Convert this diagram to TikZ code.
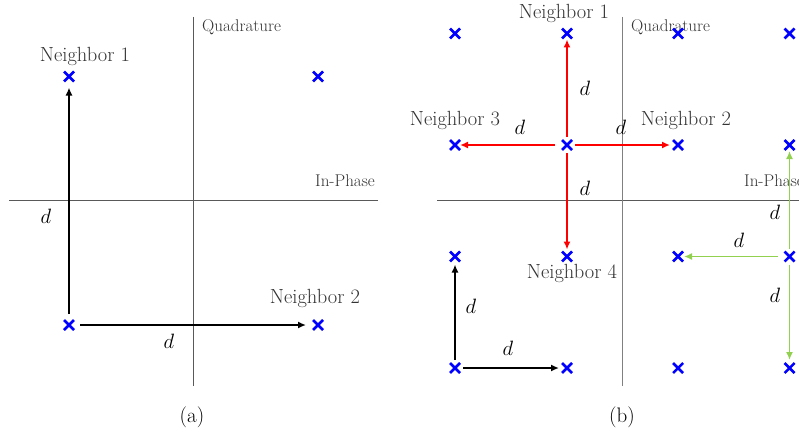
\documentclass[tikz,border=0pt]{standalone}
\usepackage{amssymb}
\usepackage{xcolor}
\usetikzlibrary{arrows.meta,shapes.misc}
\definecolor{lgreen}{RGB}{146,208,80}

\begin{document}
\begin{tikzpicture}[x=1pt,y=-1pt,
    pt/.style={cross out,draw=blue,line width=2.5pt,minimum size=10pt,
      inner sep=0pt,outer sep=0pt},
    axis/.style={draw=black!65,line width=1pt},
    vec/.style={-{Latex[length=8pt,width=7pt]},line width=1.7pt},
    lbl/.style={font=\fontsize{17}{17}\selectfont,text=black!80,inner sep=0pt},
    nb/.style={font=\fontsize{20.5}{20.5}\selectfont,text=black!80,inner sep=0pt},
    dd/.style={font=\fontsize{20.74}{20.74}\selectfont,inner sep=0pt},
    capt/.style={font=\fontsize{21}{21}\selectfont}]
    \clip (0,0) rectangle (799,428);

    % (a)
    \coordinate (aW) at (9,200.5);
    \coordinate (aE) at (378,200.5);
    \coordinate (aN) at (193,17);
    \coordinate (aS) at (193,386);
    \draw[axis] (aW) -- (aE);
    \draw[axis] (aN) -- (aS);
    \node[lbl,anchor=base west] (aQ) at (202,31) {Quadrature};
    \node[lbl,anchor=base west] (aI) at (315,186) {In-Phase};

    \node[pt] (A1) at (69,76.5) {};
    \node[pt] (A2) at (318,76.5) {};
    \node[pt] (A3) at (69,325) {};
    \node[pt] (A4) at (318,325) {};
    \node[nb,anchor=base] (aN1) at (85,61) {Neighbor 1};
    \node[nb,anchor=base] (aN2) at (315,303) {Neighbor 2};

    \draw[vec,shorten <=6pt,shorten >=6pt] (A3) -- (A1);
    \draw[vec,shorten <=6pt,shorten >=7pt] (A3) -- (A4);
    \node[dd] (ad1) at (46,216) {$d$};
    \node[dd] (ad2) at (169,341) {$d$};

    \node[capt] (ca) at (192,417) {(a)};

    % (b)
    \coordinate (bW) at (437,200.5);
    \coordinate (bE) at (799,200.5);
    \coordinate (bN) at (622,17);
    \coordinate (bS) at (622,386);
    \draw[axis] (bW) -- (bE);
    \draw[axis,draw=black!50] (bN) -- (bS);
    \node[lbl,anchor=base west] (bQ) at (631,31) {Quadrature};
    \node[lbl,anchor=base west] (bI) at (744,186) {In-Phase};

    \foreach \x/\i in {455/1,567/2,678/3,789.5/4}
      \foreach \y/\j in {33.5/1,145/2,256.5/3,368/4}
        \node[pt] (B\i\j) at (\x,\y) {};

    \node[nb,anchor=base] (bN1) at (564,19) {Neighbor 1};
    \node[nb,anchor=base] (bN2) at (686,125) {Neighbor 2};
    \node[nb,anchor=base] (bN3) at (455,125) {Neighbor 3};
    \node[nb,anchor=base] (bN4) at (572,278) {Neighbor 4};

    \draw[vec,red,shorten <=3pt,shorten >=1pt] (B22) -- (B21);
    \draw[vec,red,shorten <=3pt,shorten >=3pt] (B22) -- (B32);
    \draw[vec,red,shorten <=7pt,shorten >=0pt] (B22) -- (B12);
    \draw[vec,red,shorten <=3pt,shorten >=2pt] (B22) -- (B23);
    \node[dd] (bd1) at (585,88) {$d$};
    \node[dd] (bd2) at (621,127) {$d$};
    \node[dd] (bd3) at (520,127) {$d$};
    \node[dd] (bd4) at (585,188) {$d$};

    \draw[vec,lgreen,shorten <=3pt,shorten >=1pt] (B43) -- (B42);
    \draw[vec,lgreen,shorten <=7pt,shorten >=1pt] (B43) -- (B33);
    \draw[vec,lgreen,shorten <=3pt,shorten >=3pt] (B43) -- (B44);
    \node[dd] (bd5) at (775,212) {$d$};
    \node[dd] (bd6) at (739,240) {$d$};
    \node[dd] (bd7) at (775,295) {$d$};

    \draw[vec,shorten <=3pt,shorten >=3pt] (B14) -- (B13);
    \draw[vec,shorten <=3pt,shorten >=3pt] (B14) -- (B24);
    \node[dd] (bd8) at (471,306) {$d$};
    \node[dd] (bd9) at (508,348) {$d$};

    \node[capt] (cb) at (622,417) {(b)};
\end{tikzpicture}
\end{document}
